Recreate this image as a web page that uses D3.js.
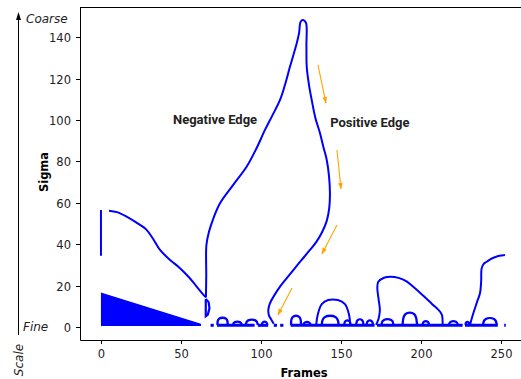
<!DOCTYPE html>
<html>
<head>
<meta charset="utf-8">
<script src="https://cdn.jsdelivr.net/npm/d3@7"></script>
<style>
  body { margin: 0; background: #fff; }
  svg { display: block; }
  text { font-family: "DejaVu Sans", sans-serif; }
</style>
</head>
<body>
<div id="chart"></div>
<script>
// values (frames, sigma)
const xTicks = [0, 50, 100, 150, 200, 250];
const yTicks = [0, 20, 40, 60, 80, 100, 120, 140];

const stemAtZero = [[0, 34.4], [0, 56.5]];

const fineTriangle = [[0, 0.5], [0, 16.6], [62.5, 1.5], [62.5, 0.5]];

// left branch down into the V
const decayCurve = [
  [5, 56.2], [10, 55.5], [16, 53.3], [22, 50.5], [28.5, 46.9], [33, 42], [36.9, 37.2],
  [43, 32.5], [49.4, 28.4], [55, 24], [59.8, 19.5], [63, 16.5], [65.6, 14.3]
];

// negative edge up to the apex, positive edge back down
const edgeCurve = [
  [65.6, 14.3], [65.8, 25], [65.9, 39.6], [67.5, 46], [70.5, 53], [74.4, 59.8],
  [83, 69], [91, 77.4], [97, 86], [102.5, 95.2], [107, 102], [111.9, 109.7],
  [115, 117], [118.1, 125.7], [120.5, 132], [122.3, 137], [123.8, 142], [124.8, 147.5],
  [126.3, 148.3], [128.1, 147], [128.4, 136], [128.6, 125.7], [130, 117],
  [131.7, 109.7], [134, 101], [136.9, 93.6], [139, 87], [141.1, 80.7], [142.5, 73],
  [143.1, 64.6], [142.6, 57], [141, 51], [138, 45.5], [134.5, 41], [130.6, 37.2],
  [125, 32], [120.2, 27.5], [116, 23.5], [111.9, 19.5], [108.5, 15.5], [105.6, 11.4],
  [104.6, 8.2], [105, 5.5], [106.5, 3.5], [108, 1.5]
];

const notch = [[65.5, 13.5], [67.3, 12], [67.8, 9], [66.8, 6], [65.5, 5.2], [65.5, 13.5]];

const sCurve = [
  [171.9, 1], [173.5, 4], [174.3, 8.2], [173.4, 14], [172.7, 19], [173.3, 21.8],
  [176.9, 23.8], [181, 24.3], [186, 23.7], [191, 22], [195, 19.5], [199, 16.8],
  [203, 14], [207, 11], [210.6, 8.5], [213, 6], [213.5, 1]
];

const rightCurve = [
  [230.6, 1], [232.7, 6.6], [235, 12], [236.9, 16.4], [237.6, 22], [237.9, 28.3],
  [239.2, 30.5], [241.1, 31.5], [243.5, 32.8], [246.2, 33.7], [249, 34.4], [252.5, 34.8]
];

const bigBump = [[134.5, 1], [135.5, 6], [138, 11], [142, 13], [148, 13], [152.5, 11], [155, 6], [155.8, 1]];

const smallBumps = [
  [[72.8, 1], [72.8, 4.6], [79.2, 4.6], [79.2, 1]],
  [[82.5, 1], [83, 2.6], [87.5, 2.6], [88, 1]],
  [[90.5, 1], [91, 3.6], [97.5, 3.6], [98, 1]],
  [[100.5, 1], [101, 2.6], [103.5, 2.6], [104, 1]],
  [[118.8, 1], [118.8, 5.6], [125, 5.6], [125, 1]],
  [[126.5, 1], [127, 2.4], [130.5, 2.4], [131, 1]],
  [[138, 1], [138.5, 5.6], [148, 5.6], [148.5, 1]],
  [[152, 1], [152.3, 3.2], [155.7, 3.2], [156, 1]],
  [[159.5, 1], [159.8, 3.8], [163.8, 3.8], [164, 1]],
  [[166, 1], [166.3, 3.2], [169.7, 3.2], [170, 1]],
  [[175.3, 1], [175.8, 3.8], [182.4, 3.8], [182.8, 1]],
  [[188.5, 1], [189, 7.2], [197, 7.2], [197.5, 1]],
  [[201, 1], [201.3, 2.8], [204.7, 2.8], [205, 1]],
  [[217.5, 1], [218, 2.8], [222.5, 2.8], [223, 1]],
  [[227.8, 1], [228, 2.4], [230, 2.4], [230.3, 1]],
  [[238.8, 1], [239.3, 4.4], [246.8, 4.4], [247.3, 1]]
];

const baselineSegs = [
  [[68.5, 0.8], [70.5, 0.8]], [[72.5, 0.8], [96, 0.8]], [[98, 0.8], [104.5, 0.8]],
  [[108, 0.8], [110, 0.8]], [[112, 0.8], [114, 0.8]], [[118.5, 0.8], [171, 0.8]],
  [[172.5, 0.8], [226, 0.8]], [[227.5, 0.8], [248, 0.8]], [[252, 0.8], [253, 0.8]]
];

const arrowPaths = [
  [[135.6, 126.6], [140.6, 108.2]],
  [[147.5, 85.5], [150, 66.7]],
  [[147.5, 49.3], [138.1, 35.3]],
  [[119.4, 18.8], [110.6, 5.8]]
];

const notes = [
  { text: 'Negative Edge', x: 71.3, y: 98 },
  { text: 'Positive Edge', x: 168, y: 96.6 }
];

const width = 521;
const height = 379;

const x = d3.scaleLinear().domain([-13.1, 263.75]).range([80, 523]);
const y = d3.scaleLinear().domain([-6.3, 154.6]).range([340, 7]);

const svg = d3.select('#chart').append('svg')
  .attr('width', width)
  .attr('height', height);

const blue = '#0000ff';
const line = d3.line().x((d) => x(d[0])).y((d) => y(d[1]));
const smooth = d3.line().x((d) => x(d[0])).y((d) => y(d[1])).curve(d3.curveCatmullRom.alpha(0.5));
const rounded = d3.line().x((d) => x(d[0])).y((d) => y(d[1])).curve(d3.curveBasis);

// spines
svg.append('path')
  .attr('d', `M${x.range()[0] + 0.5},${y.range()[1] + 0.5}H${width}M${x.range()[0] + 0.5},${y.range()[1]}V${y.range()[0] + 0.5}H${width}`)
  .attr('fill', 'none')
  .attr('stroke', '#000')
  .attr('stroke-width', 1);

// ticks
const yAxis = svg.append('g');
yTicks.forEach((t) => {
  const py = Math.round(y(t)) + 0.5;
  yAxis.append('line').attr('x1', 76).attr('x2', 80).attr('y1', py).attr('y2', py).attr('stroke', '#000');
  yAxis.append('text').attr('x', 71).attr('y', py + 4).attr('text-anchor', 'end')
    .style('font-size', '11.5px').attr('fill', '#222').text(t);
});
const xAxis = svg.append('g');
xTicks.forEach((t) => {
  const px = Math.round(x(t)) + 0.5;
  xAxis.append('line').attr('x1', px).attr('x2', px).attr('y1', 340).attr('y2', 344).attr('stroke', '#000');
  xAxis.append('text').attr('x', px).attr('y', 358).attr('text-anchor', 'middle')
    .style('font-size', '11.5px').attr('fill', '#222').text(t);
});

svg.append('text')
  .attr('transform', 'translate(48,172) rotate(-90)')
  .attr('text-anchor', 'middle')
  .style('font-size', '11.5px').style('font-weight', 'bold')
  .text('Sigma');
svg.append('text')
  .attr('x', 304).attr('y', 377)
  .attr('text-anchor', 'middle')
  .style('font-size', '11.5px').style('font-weight', 'bold')
  .text('Frames');

// scale arrow on the far left
svg.append('line').attr('x1', 18.5).attr('x2', 18.5).attr('y1', 19).attr('y2', 335).attr('stroke', '#000');
svg.append('path').attr('d', 'M18.5,12L16,20H21Z').attr('fill', '#000');
svg.append('text').attr('x', 26).attr('y', 23)
  .style('font-size', '12px').style('font-style', 'italic').attr('fill', '#222').text('Coarse');
svg.append('text').attr('x', 23).attr('y', 331)
  .style('font-size', '12px').style('font-style', 'italic').attr('fill', '#222').text('Fine');
svg.append('text')
  .attr('transform', 'translate(23,360) rotate(-90)')
  .attr('text-anchor', 'middle')
  .style('font-size', '12px').style('font-style', 'italic').attr('fill', '#222')
  .text('Scale');

// zero-crossing contours
const marks = svg.append('g');
marks.append('path').attr('d', line(fineTriangle) + 'Z').attr('fill', blue);
marks.append('path').attr('d', line(stemAtZero)).attr('fill', 'none').attr('stroke', blue).attr('stroke-width', 2);
marks.append('path').attr('d', line(notch)).attr('fill', 'none').attr('stroke', blue).attr('stroke-width', 2.2);

[decayCurve, edgeCurve, sCurve, rightCurve, bigBump].forEach((pts) => {
  marks.append('path').attr('d', smooth(pts))
    .attr('fill', 'none').attr('stroke', blue).attr('stroke-width', 2)
    .attr('stroke-linejoin', 'round');
});

smallBumps.forEach((pts) => {
  marks.append('path').attr('d', rounded(pts))
    .attr('fill', 'none').attr('stroke', blue).attr('stroke-width', 2.3);
});

baselineSegs.forEach((pts) => {
  marks.append('path').attr('d', line(pts))
    .attr('fill', 'none').attr('stroke', blue).attr('stroke-width', 3);
});

// orange direction arrows
const defs = svg.append('defs');
defs.append('marker')
  .attr('id', 'head')
  .attr('viewBox', '0 0 10 10')
  .attr('refX', 9).attr('refY', 5)
  .attr('markerWidth', 7).attr('markerHeight', 6)
  .attr('orient', 'auto')
  .append('path').attr('d', 'M0,1.5L10,5L0,8.5Z').attr('fill', '#ffa500');

arrowPaths.forEach((pts) => {
  svg.append('path').attr('d', line(pts))
    .attr('stroke', '#ffa500').attr('stroke-width', 1.1)
    .attr('fill', 'none').attr('marker-end', 'url(#head)');
});

notes.forEach((n) => {
  svg.append('text')
    .attr('x', x(n.x)).attr('y', y(n.y))
    .attr('text-anchor', 'middle')
    .style('font-family', 'Roboto, sans-serif')
    .style('font-size', '13px').style('font-weight', 'bold')
    .attr('fill', '#222')
    .text(n.text);
});
</script>
</body>
</html>
